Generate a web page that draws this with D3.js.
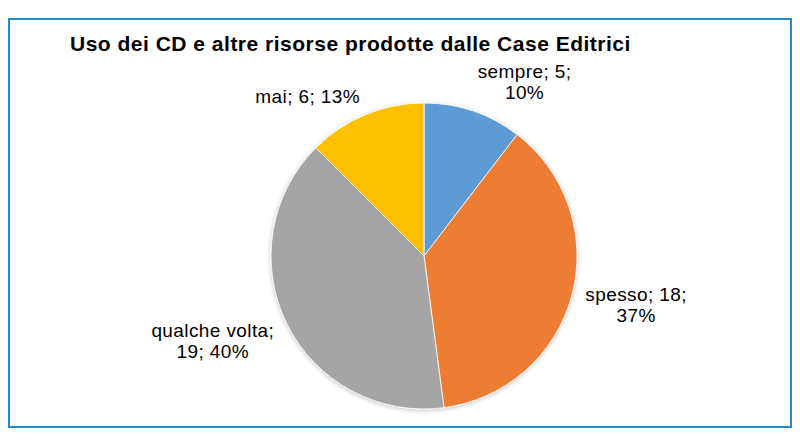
<!DOCTYPE html>
<html>
<head>
<meta charset="utf-8">
<script src="https://cdn.jsdelivr.net/npm/d3@7"></script>
<style>
  body { margin: 0; background: #fff; }
  svg text { font-family: "Liberation Sans", Arial, sans-serif; fill: #000; }
</style>
</head>
<body>
<svg id="chart" width="800" height="444"></svg>
<script>
const title = "Uso dei CD e altre risorse prodotte dalle Case Editrici";
const categories = ["sempre", "spesso", "qualche volta", "mai"];
const values = [5, 18, 19, 6];
const percentLabels = ["10%", "37%", "40%", "13%"];
const colors = ["#5B9BD5", "#ED7D31", "#A5A5A5", "#FFC000"];

const svg = d3.select("#chart");
const width = 800, height = 444;

const defs = svg.append("defs");
const shadow = defs.append("filter")
    .attr("id", "pieShadow")
    .attr("x", "-10%").attr("y", "-10%")
    .attr("width", "120%").attr("height", "120%");
shadow.append("feDropShadow")
    .attr("dx", 0).attr("dy", 1)
    .attr("stdDeviation", 2)
    .attr("flood-color", "#000")
    .attr("flood-opacity", 0.25);

svg.append("rect")
    .attr("width", width)
    .attr("height", height)
    .attr("fill", "#fff");

// frame
svg.append("rect")
    .attr("x", 9)
    .attr("y", 19)
    .attr("width", 782)
    .attr("height", 408)
    .attr("fill", "#fff")
    .attr("stroke", "#1E8FC8")
    .attr("stroke-width", 2);

svg.append("text")
    .attr("x", 70)
    .attr("y", 51)
    .style("font-size", "21px")
    .style("font-weight", "bold")
    .style("letter-spacing", "0.5px")
    .text(title);

const cx = 424, cy = 256, radius = 153;

const pie = d3.pie().sort(null).value(d => d);
const arcs = pie(values);
const arc = d3.arc().innerRadius(0).outerRadius(radius);

const g = svg.append("g")
    .attr("transform", `translate(${cx},${cy})`);

g.append("g")
    .attr("filter", "url(#pieShadow)")
    .selectAll("path")
    .data(arcs)
    .enter()
    .append("path")
    .attr("d", arc)
    .attr("fill", (d, i) => colors[i])
    .attr("stroke", "#fff")
    .attr("stroke-width", 0.8);

// labels outside end, wrapped like Excel
const fontSize = 19;
const lineHeight = 21;
const maxWidth = 125;

function measure(str) {
    const t = svg.append("text")
        .style("font-size", fontSize + "px")
        .style("letter-spacing", "0.4px")
        .text(str);
    const w = t.node().getComputedTextLength();
    t.remove();
    return w;
}

function wrapLabel(words) {
    const lines = [];
    let cur = "";
    words.forEach(w => {
        const test = cur ? cur + " " + w : w;
        if (cur && measure(test) > maxWidth) {
            lines.push(cur);
            cur = w;
        } else {
            cur = test;
        }
    });
    lines.push(cur);
    return lines;
}

const clamp = v => Math.max(-1, Math.min(1, v));

arcs.forEach((d, i) => {
    const words = (categories[i] + "; " + values[i] + "; " + percentLabels[i]).split(" ");
    const lines = wrapLabel(words);
    const w = d3.max(lines, measure);
    const h = lines.length * lineHeight;
    const mid = (d.startAngle + d.endAngle) / 2;
    const px = Math.sin(mid) * (radius + 14);
    const py = -Math.cos(mid) * (radius + 8);
    const bx = px + clamp(Math.sin(mid) * 4) * w / 2;
    const by = py - clamp(Math.cos(mid) * 1.5) * h / 2;

    const label = g.append("text")
        .attr("text-anchor", "middle")
        .style("font-size", fontSize + "px")
        .style("letter-spacing", "0.4px");

    lines.forEach((line, j) => {
        label.append("tspan")
            .attr("x", bx)
            .attr("y", by - h / 2 + (j + 0.78) * lineHeight)
            .text(line);
    });
});
</script>
</body>
</html>
